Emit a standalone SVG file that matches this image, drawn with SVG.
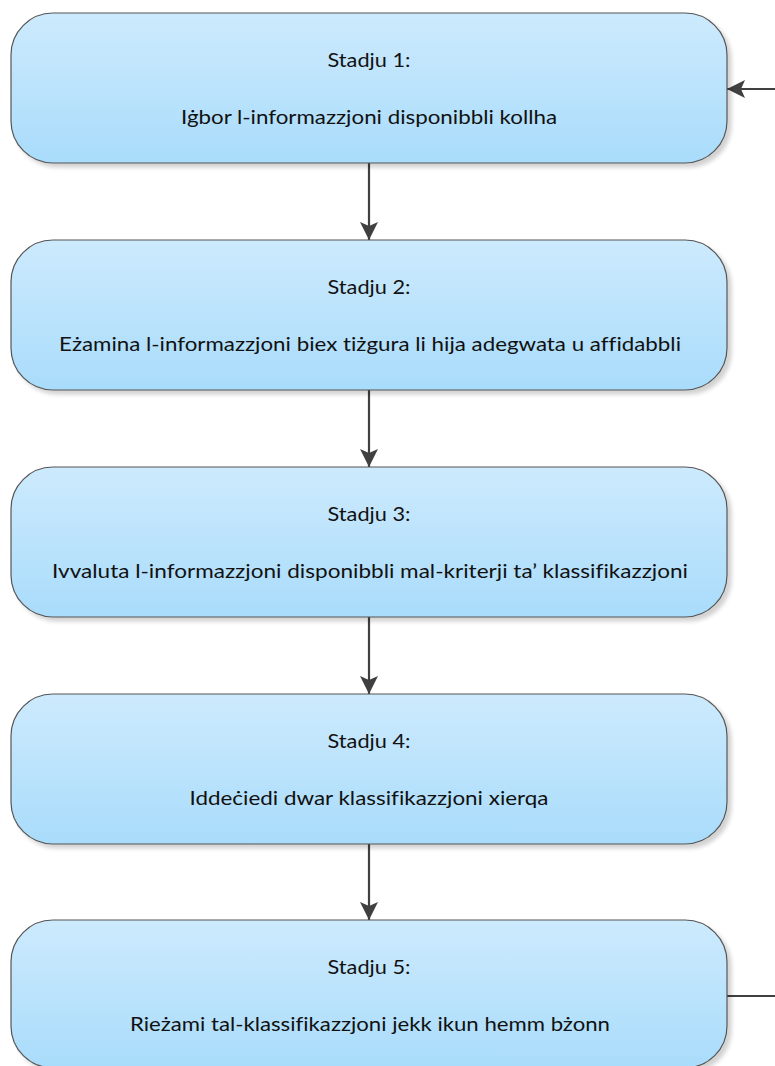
<svg xmlns="http://www.w3.org/2000/svg" width="775" height="1066" viewBox="0 0 775 1066">
<defs>
<linearGradient id="g" x1="0" y1="0" x2="0" y2="1">
<stop offset="0" stop-color="#cdeafd"/>
<stop offset="1" stop-color="#a9dcfb"/>
</linearGradient>
<filter id="sh" x="-5%" y="-5%" width="115%" height="120%">
<feGaussianBlur in="SourceAlpha" stdDeviation="2"/>
<feOffset dx="4" dy="4" result="b"/>
<feComponentTransfer><feFuncA type="linear" slope="0.18"/></feComponentTransfer>
<feMerge><feMergeNode/><feMergeNode in="SourceGraphic"/></feMerge>
</filter>
<marker id="ah" markerWidth="18" markerHeight="18" refX="18" refY="9" orient="auto" markerUnits="userSpaceOnUse">
<path d="M0,0 L18,9 L0,18 L4,9 Z" fill="#404040"/>
</marker>
</defs>
<style>
.box{fill:url(#g);stroke:#555;stroke-width:1.2;filter:url(#sh)}
.t{font-family:Lato,"Open Sans","Liberation Sans",sans-serif;font-size:19px;fill:#111;text-anchor:middle;font-variant-ligatures:none}
.c{fill:none;stroke:#404040;stroke-width:2.2}
</style>
<rect width="775" height="1066" fill="#fff"/>
<g id="connectors">
<path class="c" d="M369,163 V240" marker-end="url(#ah)"/>
<path class="c" d="M369,390 V467" marker-end="url(#ah)"/>
<path class="c" d="M369,617 V694" marker-end="url(#ah)"/>
<path class="c" d="M369,844 V920" marker-end="url(#ah)"/>
<path class="c" d="M727,996 H800 V89 H727" marker-end="url(#ah)"/>
</g>
<g id="stage1">
<rect class="box" x="11" y="13" width="716" height="150" rx="42" ry="42"/>
<text class="t" x="369" y="67" textLength="83" lengthAdjust="spacingAndGlyphs">Stadju 1:</text>
<text class="t" x="369" y="124" textLength="376" lengthAdjust="spacingAndGlyphs">Iġbor l-informazzjoni disponibbli kollha</text>
</g>
<g id="stage2">
<rect class="box" x="11" y="240" width="716" height="150" rx="42" ry="42"/>
<text class="t" x="369" y="294" textLength="83" lengthAdjust="spacingAndGlyphs">Stadju 2:</text>
<text class="t" x="370" y="351" textLength="622" lengthAdjust="spacingAndGlyphs">Eżamina l-informazzjoni biex tiżgura li hija adegwata u affidabbli</text>
</g>
<g id="stage3">
<rect class="box" x="11" y="467" width="716" height="150" rx="42" ry="42"/>
<text class="t" x="369" y="521" textLength="83" lengthAdjust="spacingAndGlyphs">Stadju 3:</text>
<text class="t" x="370" y="578" textLength="636" lengthAdjust="spacingAndGlyphs">Ivvaluta l-informazzjoni disponibbli mal-kriterji ta’ klassifikazzjoni</text>
</g>
<g id="stage4">
<rect class="box" x="11" y="694" width="716" height="150" rx="42" ry="42"/>
<text class="t" x="369" y="748" textLength="83" lengthAdjust="spacingAndGlyphs">Stadju 4:</text>
<text class="t" x="369" y="805" textLength="359" lengthAdjust="spacingAndGlyphs">Iddeċiedi dwar klassifikazzjoni xierqa</text>
</g>
<g id="stage5">
<rect class="box" x="11" y="920" width="716" height="148" rx="42" ry="42"/>
<text class="t" x="369" y="974" textLength="83" lengthAdjust="spacingAndGlyphs">Stadju 5:</text>
<text class="t" x="370" y="1031" textLength="480" lengthAdjust="spacingAndGlyphs">Rieżami tal-klassifikazzjoni jekk ikun hemm bżonn</text>
</g>
</svg>
